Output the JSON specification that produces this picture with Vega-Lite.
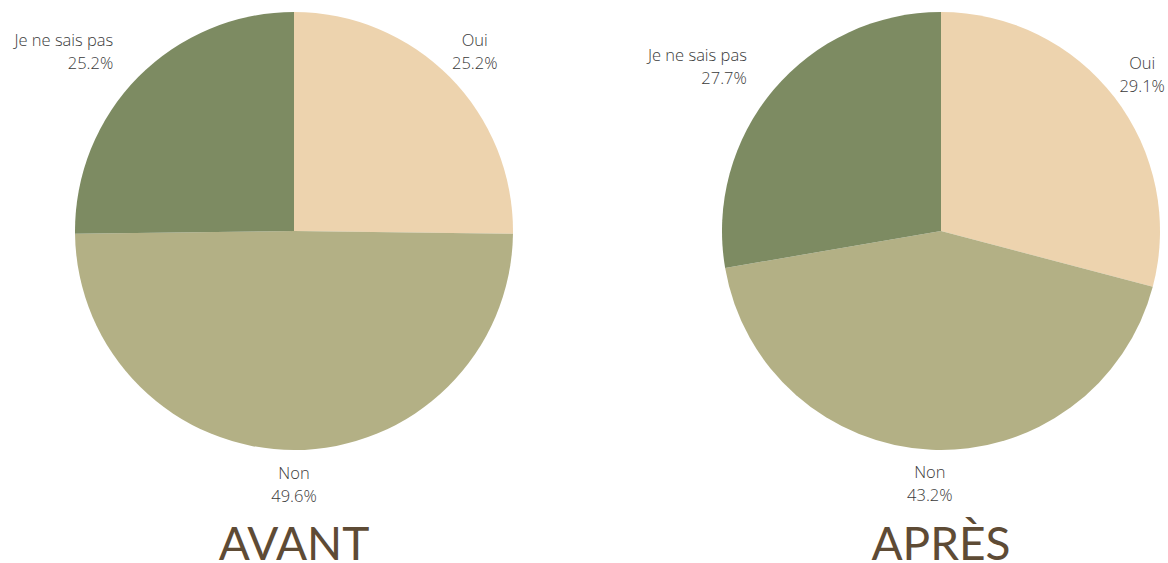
{
  "$schema": "https://vega.github.io/schema/vega-lite/v6.json",
  "padding": 0,
  "background": "white",
  "bounds": "flush",
  "datasets": {
    "survey": [
      {"period": "AVANT", "answer": "Oui", "ord": 1, "pct": 25.2},
      {"period": "AVANT", "answer": "Non", "ord": 2, "pct": 49.6},
      {"period": "AVANT", "answer": "Je ne sais pas", "ord": 3, "pct": 25.2},
      {"period": "APRÈS", "answer": "Oui", "ord": 1, "pct": 29.1},
      {"period": "APRÈS", "answer": "Non", "ord": 2, "pct": 43.2},
      {"period": "APRÈS", "answer": "Je ne sais pas", "ord": 3, "pct": 27.7}
    ]
  },
  "spacing": 126,
  "hconcat": [
    {
      "width": 588,
      "height": 462,
      "data": {"name": "survey"},
      "transform": [
        {"filter": "datum.period === 'AVANT'"},
        {"calculate": "[datum.answer, format(datum.pct, '.1f') + '%']", "as": "lbl"}
      ],
      "title": {"text": "AVANT", "orient": "bottom", "anchor": "middle", "baseline": "alphabetic", "offset": 55, "fontSize": 46, "font": "Lato", "fontWeight": "normal", "color": "#5E4B35"},
      "encoding": {
        "theta": {"field": "pct", "type": "quantitative", "stack": true},
        "order": {"field": "ord", "type": "quantitative"},
        "color": {"field": "answer", "type": "nominal", "legend": null,
          "scale": {"domain": ["Oui", "Non", "Je ne sais pas"], "range": ["#EDD3AE", "#B3B085", "#7D8B62"]}}
      },
      "layer": [
        {"mark": {"type": "arc", "outerRadius": 219}},
        {"mark": {"type": "text", "radius": 254, "dy": -11.5, "align": {"expr": "datum.answer === 'Je ne sais pas' ? 'right' : 'center'"}, "baseline": "middle", "font": "Open Sans", "fontSize": 16.5, "fontWeight": 300, "lineHeight": 23},
         "encoding": {"text": {"field": "lbl"}, "color": {"value": "#3A3A3A"}}}
      ]
    },
    {
      "width": 454,
      "height": 462,
      "data": {"name": "survey"},
      "transform": [
        {"filter": "datum.period === 'APRÈS'"},
        {"calculate": "[datum.answer, format(datum.pct, '.1f') + '%']", "as": "lbl"}
      ],
      "title": {"text": "APRÈS", "orient": "bottom", "anchor": "middle", "baseline": "alphabetic", "offset": 55, "fontSize": 46, "font": "Lato", "fontWeight": "normal", "color": "#5E4B35"},
      "encoding": {
        "theta": {"field": "pct", "type": "quantitative", "stack": true},
        "order": {"field": "ord", "type": "quantitative"},
        "color": {"field": "answer", "type": "nominal", "legend": null,
          "scale": {"domain": ["Oui", "Non", "Je ne sais pas"], "range": ["#EDD3AE", "#B3B085", "#7D8B62"]}}
      },
      "layer": [
        {"mark": {"type": "arc", "outerRadius": 219}},
        {"mark": {"type": "text", "radius": 254, "dy": -11.5, "align": {"expr": "datum.answer === 'Je ne sais pas' ? 'right' : 'center'"}, "baseline": "middle", "font": "Open Sans", "fontSize": 16.5, "fontWeight": 300, "lineHeight": 23},
         "encoding": {"text": {"field": "lbl"}, "color": {"value": "#3A3A3A"}}}
      ]
    }
  ],
  "config": {"view": {"stroke": null}}
}
